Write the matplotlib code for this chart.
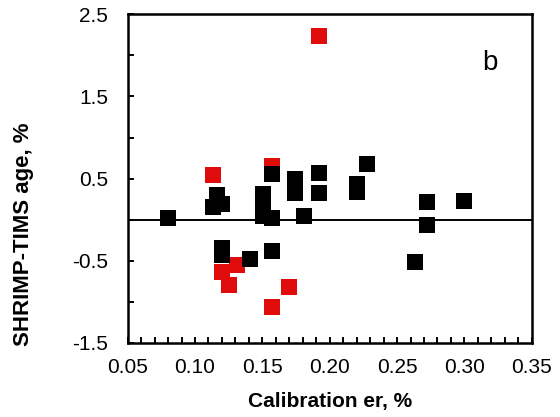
import matplotlib
matplotlib.use("Agg")
import matplotlib.pyplot as plt
from matplotlib.ticker import MultipleLocator, FixedLocator, FormatStrFormatter

plt.rcParams["font.family"] = ["Liberation Sans", "DejaVu Sans"]
plt.rcParams["axes.unicode_minus"] = False

# red points (outliers)
red_x = [0.1918, 0.1136, 0.157, 0.120, 0.131, 0.1255, 0.157, 0.170]
red_y = [2.24, 0.543, 0.65, -0.635, -0.553, -0.797, -1.07, -0.818]

# black points
black_x = [0.080, 0.1161, 0.1136, 0.120, 0.120, 0.120, 0.1408, 0.1507, 0.1507,
           0.1507, 0.157, 0.157, 0.157, 0.1745, 0.1745, 0.1745, 0.181, 0.1918,
           0.1918, 0.2205, 0.2205, 0.228, 0.263, 0.272, 0.272, 0.2997]
black_y = [0.015, 0.30, 0.157, 0.19, -0.34, -0.43, -0.484, 0.31, 0.17,
           0.04, 0.015, 0.56, -0.383, 0.50, 0.41, 0.32, 0.043, 0.57,
           0.327, 0.43, 0.335, 0.68, -0.513, 0.21, -0.066, 0.23]

fig = plt.figure(figsize=(5.6, 4.17), dpi=100)
ax = fig.add_axes([0.228, 0.178, 0.7215, 0.7875])

ax.axhline(0, color="black", linewidth=1.4, zorder=1)
ax.plot(red_x, red_y, "s", color="#E00B0B", markersize=12.2, markeredgewidth=0, zorder=2)
ax.plot(black_x, black_y, "s", color="black", markersize=12.2, markeredgewidth=0, zorder=3)

ax.set_xlim(0.05, 0.35)
ax.set_ylim(-1.5, 2.5)
ax.xaxis.set_major_locator(MultipleLocator(0.05))
ax.xaxis.set_minor_locator(MultipleLocator(0.01))
ax.yaxis.set_major_locator(FixedLocator([-1.5, -0.5, 0.5, 1.5, 2.5]))
ax.yaxis.set_minor_locator(FixedLocator([-1.0, 0.0, 1.0, 2.0]))
ax.xaxis.set_major_formatter(FormatStrFormatter("%.2f"))

ax.tick_params(which="both", direction="in", length=4, width=1.4, labelsize=15)
ax.tick_params(axis="x", which="both", top=False, pad=11)
ax.tick_params(axis="y", which="both", right=False, pad=14)
for s in ax.spines.values():
    s.set_linewidth(1.8)

ax.set_xlabel("Calibration er, %", fontsize=15, fontweight="bold", va="center")
ax.xaxis.set_label_coords(0.5, -0.1775)
ax.set_ylabel("SHRIMP-TIMS age, %", fontsize=16, fontweight="bold", va="center")
ax.yaxis.set_label_coords(-0.258, 0.3295)
ax.text(0.897, 0.852, "b", transform=ax.transAxes, fontsize=20, ha="center", va="center")

fig.savefig("out.png", dpi=100)
